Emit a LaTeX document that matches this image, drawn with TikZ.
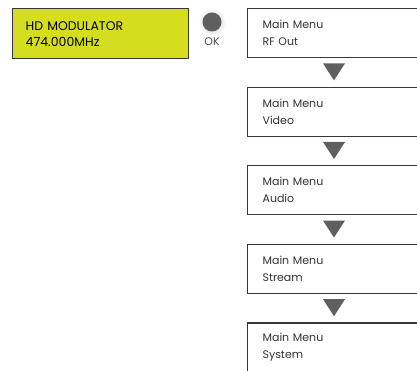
\documentclass[tikz,border=0pt]{standalone}
\usepackage{fontspec}
\setmainfont{Poppins}
\usetikzlibrary{calc,positioning}

\definecolor{lcdyellow}{RGB}{213,222,30}
\definecolor{framegray}{RGB}{55,55,55}
\definecolor{arrowgray}{RGB}{95,95,95}

\tikzset{
  lcdbox/.style={draw=framegray, line width=1.3pt, fill=lcdyellow, anchor=north west,
    minimum height=50pt, text width=150pt, align=left, inner xsep=13pt,
    font=\fontsize{12.5}{16}\selectfont},
  menubox/.style={draw=framegray, line width=1.2pt, fill=white, anchor=north west,
    minimum height=49pt, text width=160pt, align=left, inner xsep=15pt,
    font=\fontsize{11}{17}\selectfont, text=black!80},
  downtri/.style={fill=arrowgray}
}

\begin{document}
\begin{tikzpicture}[x=1pt,y=1pt]
  \useasboundingbox (0,0) rectangle (417,-371);
  \clip (0,0) rectangle (417,-371);

  % display and ok key
  \node[lcdbox] (lcd) at (12,-8) {HD MODULATOR\\474.000MHz};
  \coordinate (okc) at (212,-22);
  \shade[inner color=black!25, outer color=white] (okc) circle (14);
  \fill[arrowgray] (okc) circle (9.5);
  \node[font=\fontsize{11}{12}\selectfont, text=black!70] (ok) at (212,-42) {OK};

  % menu entries
  \foreach \name/\txt [count=\i] in {rf/RF Out, video/Video, audio/Audio, stream/Stream, system/System}{
    \node[menubox] (\name) at (247,{-8-78.6*(\i-1)}) {Main Menu\\\txt};
  }

  \foreach \a/\b in {rf/video, video/audio, audio/stream, stream/system}{
    \coordinate (t) at ($($(\a.south west)!0.5!(\b.north west)$)+(87,0)$);
    \fill[downtri] ($(t)+(-11,9)$) -- ($(t)+(11,9)$) -- ($(t)+(0,-8)$) -- cycle;
  }
\end{tikzpicture}
\end{document}
